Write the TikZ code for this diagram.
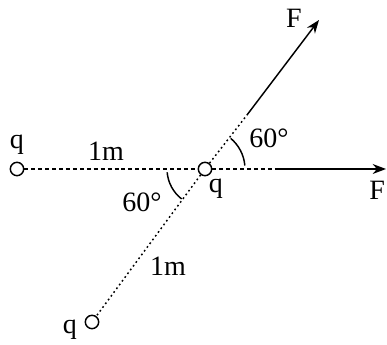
\documentclass[tikz,border=0pt]{standalone}
\usepackage{fontspec}
\setmainfont{Liberation Serif}
\usetikzlibrary{arrows.meta}
\begin{document}
\begin{tikzpicture}[x=0.75pt,y=-0.75pt,>={Stealth[length=10pt,width=7.5pt]},line width=1.1pt,
  font=\fontsize{21}{23}\selectfont,
  charge/.style={circle,draw,fill=white,inner sep=0pt,minimum size=10pt},
  dashline/.style={dash pattern=on 3pt off 2.2pt},
  dotline/.style={dash pattern=on 1.3pt off 2.2pt}]
  \useasboundingbox (0,0) rectangle (387,345);
  \coordinate (U) at (247,115);
  \coordinate (Ftop) at (319,20);
  \coordinate (R) at (275,169);
  \coordinate (Fright) at (386,169);

  % lines between the charges
  \node[charge] (qO) at (205,169) {};
  \node[charge] (qL) at (17,169) {};
  \node[charge] (qB) at (92,322) {};
  \draw[dashline] (qL) -- (qO);
  \draw[dotline] (qO) -- (qB);

  % forces
  \draw[dotline] (qO) -- (U);
  \draw[->] (U) -- (Ftop);
  \draw[dashline] (qO) -- (R);
  \draw[->] (R) -- (Fright);

  % angles
  \draw (qO.center) ++(-5:40) arc[start angle=-5,end angle=-50,radius=40];
  \draw (qO.center) ++(175:38) arc[start angle=175,end angle=128,radius=38];

  % labels
  \node (tL) at (17,145) {q};
  \node (tO) at (216,189) {q};
  \node (tB) at (70,330) {q};
  \node (d1) at (106,151) {1m};
  \node (d2) at (168,266) {1m};
  \node (a1) at (269,138) {60°};
  \node (a2) at (142,202) {60°};
  \node (f1) at (294,18) {F};
  \node[anchor=east,inner sep=1pt] (f2) at (387,190) {F};
\end{tikzpicture}
\end{document}
